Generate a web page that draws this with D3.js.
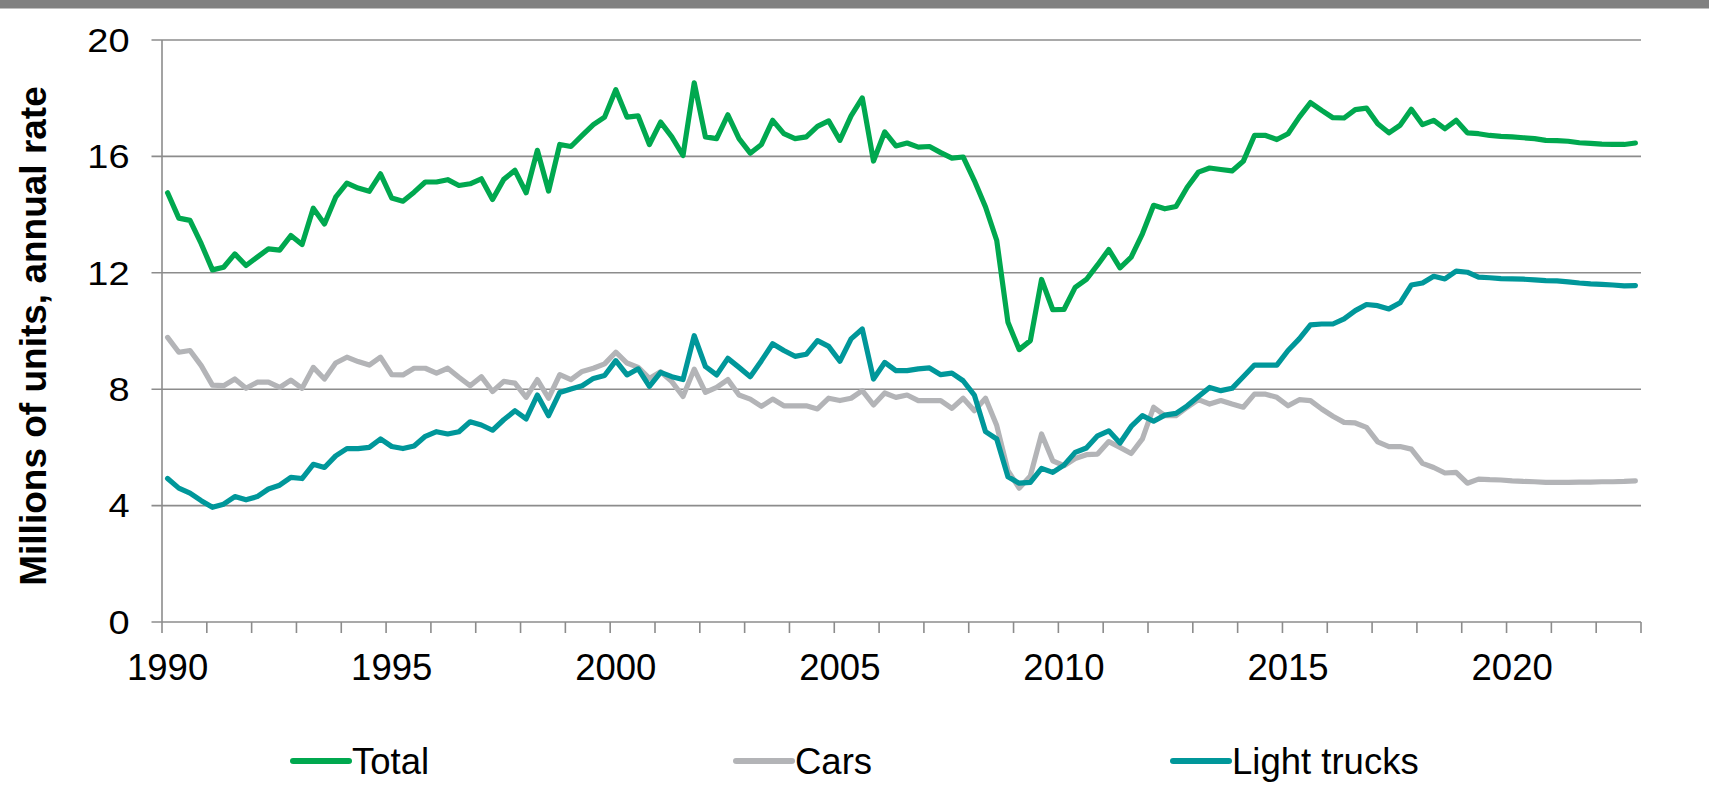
<!DOCTYPE html>
<html>
<head>
<meta charset="utf-8">
<script src="https://cdn.jsdelivr.net/npm/d3@7"></script>
<style>
  html, body { margin: 0; padding: 0; background: #fff; }
  svg { display: block; font-family: "Liberation Sans", Arial, sans-serif; }
</style>
</head>
<body>
<svg id="chart" width="1709" height="785"></svg>
<script>
// ---- data (quarterly, 1990Q1 - 2022Q4, millions of units, annual rate) ----
const startYear = 1990;
const endYear = 2023;
const yTicks = [0, 4, 8, 12, 16, 20];
const xLabelYears = [1990, 1995, 2000, 2005, 2010, 2015, 2020];
const seriesNames = ["Total", "Cars", "Light trucks"];

const total = [
  14.75, 13.88, 13.80, 13.00, 12.10, 12.19, 12.65, 12.25, 12.54, 12.82, 12.78, 13.28, 12.97, 14.22, 13.68,
  14.60, 15.08, 14.91, 14.80, 15.40, 14.57, 14.46, 14.77, 15.12, 15.12, 15.20, 15.00, 15.06, 15.23, 14.52,
  15.21, 15.52, 14.75, 16.21, 14.81, 16.41, 16.34, 16.72, 17.09, 17.35, 18.29, 17.35, 17.39, 16.41,
  17.18, 16.67, 16.03, 18.53, 16.67, 16.61, 17.43, 16.61, 16.11, 16.41, 17.24, 16.78, 16.61, 16.67, 17.03,
  17.22, 16.55, 17.39, 18.01, 15.84, 16.84, 16.36, 16.46, 16.32, 16.34, 16.13, 15.94, 15.98, 15.17, 14.26,
  13.11, 10.30, 9.36, 9.67, 11.77, 10.73, 10.74, 11.50, 11.77, 12.27, 12.80, 12.17, 12.54, 13.34,
  14.32, 14.20, 14.28, 14.94, 15.46, 15.60, 15.55, 15.50, 15.83, 16.72, 16.72, 16.58, 16.78, 17.35, 17.85,
  17.58, 17.33, 17.32, 17.61, 17.66, 17.12, 16.81, 17.07, 17.62, 17.09, 17.24, 16.95, 17.24, 16.81, 16.78,
  16.72, 16.69, 16.67, 16.64, 16.61, 16.55, 16.54, 16.52, 16.47, 16.45, 16.42, 16.41, 16.41, 16.46
];
const cars = [
  9.78, 9.27, 9.33, 8.81, 8.14, 8.12, 8.35, 8.03, 8.24, 8.24, 8.06, 8.31, 8.03, 8.75, 8.35,
  8.90, 9.10, 8.95, 8.83, 9.10, 8.50, 8.49, 8.72, 8.72, 8.55, 8.72, 8.41, 8.12, 8.43, 7.92,
  8.27, 8.21, 7.72, 8.33, 7.69, 8.50, 8.33, 8.61, 8.72, 8.87, 9.27, 8.90, 8.75, 8.37,
  8.60, 8.26, 7.75, 8.69, 7.89, 8.06, 8.33, 7.80, 7.66, 7.41, 7.66, 7.43, 7.43, 7.43, 7.32,
  7.69, 7.61, 7.69, 7.95, 7.46, 7.87, 7.72, 7.80, 7.61, 7.61, 7.61, 7.34, 7.69, 7.26, 7.69,
  6.75, 5.20, 4.60, 5.02, 6.46, 5.54, 5.37, 5.62, 5.75, 5.77, 6.20, 6.00, 5.79, 6.29,
  7.38, 7.09, 7.09, 7.38, 7.64, 7.49, 7.61, 7.49, 7.38, 7.83, 7.83, 7.72, 7.43, 7.64, 7.61,
  7.32, 7.07, 6.86, 6.84, 6.69, 6.19, 6.03, 6.03, 5.94, 5.45, 5.31, 5.12, 5.14, 4.77, 4.91,
  4.89, 4.88, 4.85, 4.83, 4.82, 4.80, 4.80, 4.80, 4.81, 4.81, 4.82, 4.82, 4.83, 4.85
];
const lightTrucks = [
  4.93, 4.60, 4.43, 4.17, 3.94, 4.05, 4.31, 4.20, 4.31, 4.57, 4.70, 4.97, 4.93, 5.42, 5.31,
  5.71, 5.96, 5.96, 6.00, 6.29, 6.03, 5.96, 6.05, 6.38, 6.54, 6.46, 6.54, 6.88, 6.77, 6.59,
  6.95, 7.26, 6.98, 7.80, 7.09, 7.89, 8.01, 8.12, 8.37, 8.47, 8.98, 8.49, 8.70, 8.10,
  8.58, 8.43, 8.33, 9.84, 8.78, 8.49, 9.06, 8.75, 8.43, 8.98, 9.56, 9.33, 9.13, 9.20, 9.67,
  9.47, 8.96, 9.73, 10.07, 8.35, 8.92, 8.64, 8.64, 8.70, 8.73, 8.50, 8.55, 8.29, 7.80, 6.54,
  6.29, 4.99, 4.77, 4.80, 5.28, 5.14, 5.39, 5.83, 5.98, 6.40, 6.57, 6.15, 6.72, 7.09,
  6.90, 7.11, 7.17, 7.43, 7.75, 8.06, 7.95, 8.03, 8.43, 8.83, 8.83, 8.83, 9.33, 9.73, 10.21,
  10.24, 10.24, 10.42, 10.70, 10.91, 10.87, 10.76, 10.97, 11.58, 11.65, 11.88, 11.79, 12.06, 12.02, 11.85,
  11.83, 11.80, 11.79, 11.78, 11.76, 11.73, 11.72, 11.69, 11.65, 11.62, 11.60, 11.58, 11.55, 11.56
];

// quarter categories
const quarters = [];
for (let y = startYear; y < endYear; y++) for (let q = 1; q <= 4; q++) quarters.push(y + "Q" + q);
const years = d3.range(startYear, endYear + 1);

// ---- layout ----
const L = 162, R = 1641, T = 40, B = 622;
const colors = { "Total": "#00a84f", "Cars": "#b3b4b7", "Light trucks": "#00979a" };
const axisColor = "#8c8c8c";

const svg = d3.select("#chart");

// top bar
svg.append("rect").attr("x", 0).attr("y", 0).attr("width", 1709).attr("height", 8.5).attr("fill", "#808080");

const x = d3.scaleBand().domain(quarters).range([L, R]).padding(0);
const xYear = d3.scaleLinear().domain([startYear, endYear]).range([L, R]);
const y = d3.scaleLinear().domain([0, 20]).range([B, T]);

// gridlines + left ticks
svg.append("g").selectAll("line").data(yTicks).join("line")
  .attr("x1", L - 10.5).attr("x2", R)
  .attr("y1", d => y(d)).attr("y2", d => y(d))
  .attr("stroke", axisColor).attr("stroke-width", 1.6);

// vertical axis line
svg.append("line").attr("x1", L).attr("x2", L).attr("y1", y(20)).attr("y2", y(0))
  .attr("stroke", axisColor).attr("stroke-width", 1.6);

// x ticks (yearly)
svg.append("g").selectAll("line").data(years).join("line")
  .attr("x1", d => xYear(d)).attr("x2", d => xYear(d))
  .attr("y1", B).attr("y2", B + 11)
  .attr("stroke", axisColor).attr("stroke-width", 1.6);

// y tick labels
svg.append("g").selectAll("text").data(yTicks).join("text")
  .attr("transform", d => `translate(129.5,${y(d) + 11.7}) scale(1.15,1)`)
  .attr("text-anchor", "end")
  .attr("font-size", 33).attr("fill", "#000")
  .text(d => d);

// x tick labels (centered on Q1 of the year)
svg.append("g").selectAll("text").data(xLabelYears).join("text")
  .attr("x", d => x(d + "Q1") + x.bandwidth() / 2)
  .attr("y", 680)
  .attr("text-anchor", "middle")
  .attr("font-size", 36.5).attr("fill", "#000")
  .text(d => d);

// y axis title
svg.append("text")
  .attr("transform", "translate(46,336) rotate(-90)")
  .attr("text-anchor", "middle")
  .attr("font-size", 37).attr("font-weight", "bold").attr("fill", "#000")
  .text("Millions of units, annual rate");

// lines
const seriesData = [total, cars, lightTrucks];
const line = d3.line()
  .x((d, i) => x(quarters[i]) + x.bandwidth() / 2)
  .y(d => y(d));

svg.append("g").selectAll("path").data(seriesData).join("path")
  .attr("d", d => line(d))
  .attr("fill", "none")
  .attr("stroke", (d, i) => colors[seriesNames[i]])
  .attr("stroke-width", 5.2)
  .attr("stroke-linejoin", "round")
  .attr("stroke-linecap", "round");

// legend
const legendX = [293, 736, 1173];
const lg = svg.append("g").selectAll("g").data(seriesNames).join("g")
  .attr("transform", (d, i) => `translate(${legendX[i]},761)`);
lg.append("line").attr("x1", 0).attr("x2", 56).attr("y1", 0).attr("y2", 0)
  .attr("stroke", d => colors[d]).attr("stroke-width", 6).attr("stroke-linecap", "round");
lg.append("text").attr("x", 59).attr("y", 12.5)
  .attr("font-size", 36.5).attr("fill", "#000")
  .text(d => d);
</script>
</body>
</html>
